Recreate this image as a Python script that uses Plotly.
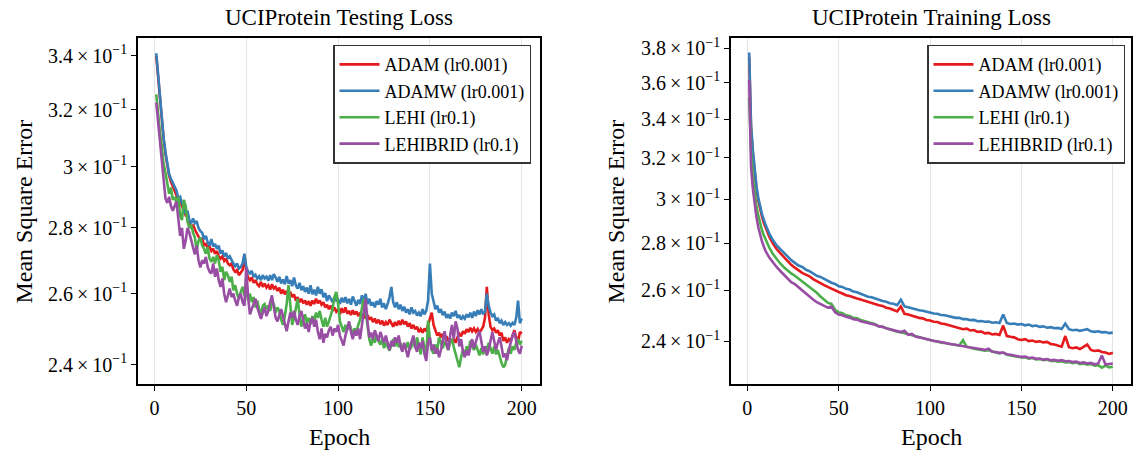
import plotly.graph_objects as go

FONT = "Liberation Serif"

# ---------------- data ----------------
series_names = ["ADAM (lr0.001)", "ADAMW (lr0.001)", "LEHI (lr0.1)", "LEHIBRID (lr0.1)"]
series_colors = ["#e41a1c", "#377eb8", "#4daf4a", "#984ea3"]

test_epochs = list(range(1, 201))

test_adam = [
    .3400, .3320, .3235, .3160, .3095, .3045, .3005, .2970, .2950, .2935,
    .2920, .2905, .2890, .2885, .2870, .2858, .2840, .2842, .2815, .2800,
    .2810, .2795, .2785, .2775, .2762, .2768, .2745, .2752, .2735, .2742,
    .2728, .2735, .2720, .2728, .2712, .2705, .2712, .2698, .2705, .2690,
    .2685, .2690, .2672, .2665, .2670, .2655, .2662, .2670, .2718, .2665,
    .2648, .2640, .2648, .2632, .2640, .2628, .2622, .2635, .2620, .2630,
    .2618, .2625, .2612, .2628, .2615, .2620, .2608, .2618, .2600, .2612,
    .2598, .2608, .2595, .2605, .2590, .2598, .2580, .2590, .2575, .2585,
    .2572, .2580, .2568, .2578, .2565, .2580, .2570, .2585, .2572, .2580,
    .2568, .2575, .2560, .2568, .2555, .2565, .2550, .2560, .2548, .2555,
    .2540, .2558, .2545, .2560, .2542, .2550, .2538, .2552, .2540, .2548,
    .2535, .2545, .2530, .2542, .2528, .2538, .2525, .2532, .2518, .2528,
    .2515, .2525, .2512, .2522, .2508, .2518, .2510, .2525, .2515, .2505,
    .2518, .2508, .2522, .2510, .2525, .2512, .2520, .2505, .2515, .2500,
    .2510, .2498, .2505, .2490, .2498, .2488, .2500, .2492, .2510, .2530,
    .2545, .2510, .2495, .2480, .2488, .2475, .2485, .2470, .2478, .2465,
    .2472, .2462, .2470, .2460, .2475, .2485, .2478, .2492, .2485, .2498,
    .2490, .2502, .2492, .2500, .2490, .2498, .2488, .2495, .2505, .2530,
    .2620, .2540, .2505, .2495, .2500, .2488, .2495, .2480, .2488, .2465,
    .2475, .2460, .2470, .2465, .2480, .2495, .2475, .2462, .2490, .2485,
]

test_adamw = [
    .3410, .3330, .3250, .3165, .3100, .3050, .3010, .2975, .2960, .2945,
    .2930, .2920, .2895, .2900, .2880, .2870, .2845, .2855, .2825, .2815,
    .2830, .2815, .2822, .2800, .2790, .2785, .2765, .2775, .2755, .2745,
    .2765, .2742, .2750, .2735, .2745, .2720, .2730, .2712, .2722, .2705,
    .2712, .2698, .2690, .2682, .2690, .2675, .2680, .2690, .2720, .2680,
    .2665, .2660, .2668, .2650, .2656, .2645, .2652, .2640, .2655, .2645,
    .2650, .2638, .2655, .2640, .2658, .2648, .2635, .2650, .2630, .2642,
    .2628, .2652, .2630, .2640, .2622, .2648, .2625, .2615, .2632, .2610,
    .2622, .2605, .2618, .2600, .2625, .2598, .2612, .2595, .2620, .2600,
    .2613, .2590, .2602, .2578, .2595, .2585, .2575, .2590, .2580, .2583,
    .2570, .2588, .2575, .2590, .2572, .2585, .2568, .2592, .2575, .2565,
    .2582, .2570, .2595, .2575, .2600, .2570, .2585, .2565, .2575, .2560,
    .2578, .2568, .2585, .2560, .2572, .2555, .2570, .2590, .2620, .2575,
    .2560, .2575, .2555, .2568, .2550, .2562, .2545, .2555, .2540, .2560,
    .2545, .2550, .2537, .2545, .2535, .2555, .2540, .2550, .2580, .2690,
    .2600, .2580, .2555, .2565, .2545, .2555, .2538, .2548, .2530, .2540,
    .2528, .2545, .2535, .2550, .2530, .2538, .2525, .2535, .2528, .2540,
    .2532, .2545, .2530, .2548, .2535, .2552, .2540, .2555, .2540, .2548,
    .2600, .2565, .2545, .2535, .2540, .2522, .2530, .2515, .2522, .2510,
    .2518, .2510, .2515, .2508, .2516, .2510, .2530, .2580, .2515, .2528,
]

test_lehi = [
    .3255, .3180, .3120, .3070, .3010, .2980, .2950, .2910, .2930, .2890,
    .2900, .2880, .2900, .2840, .2825, .2890, .2870, .2820, .2800, .2810,
    .2785, .2770, .2730, .2760, .2770, .2745, .2735, .2720, .2740, .2705,
    .2695, .2710, .2690, .2715, .2700, .2665, .2680, .2640, .2665, .2655,
    .2635, .2650, .2610, .2625, .2600, .2585, .2605, .2620, .2595, .2610,
    .2580, .2600, .2575, .2590, .2560, .2580, .2555, .2540, .2565, .2570,
    .2555, .2565, .2550, .2575, .2570, .2545, .2560, .2550, .2525, .2510,
    .2535, .2570, .2625, .2560, .2510, .2530, .2560, .2585, .2540, .2505,
    .2525, .2540, .2515, .2530, .2512, .2535, .2520, .2545, .2530, .2550,
    .2525, .2505, .2530, .2505, .2520, .2540, .2555, .2590, .2605, .2570,
    .2520, .2505, .2490, .2510, .2495, .2515, .2500, .2485, .2500, .2490,
    .2510, .2525, .2560, .2585, .2550, .2500, .2470, .2452, .2475, .2460,
    .2480, .2465, .2455, .2470, .2445, .2460, .2450, .2438, .2455, .2470,
    .2450, .2465, .2448, .2460, .2440, .2455, .2445, .2462, .2440, .2450,
    .2465, .2445, .2475, .2455, .2428, .2475, .2445, .2420, .2522, .2470,
    .2440, .2430, .2455, .2440, .2475, .2460, .2445, .2465, .2452, .2440,
    .2460, .2470, .2448, .2430, .2410, .2393, .2420, .2440, .2425, .2450,
    .2435, .2466, .2450, .2440, .2455, .2438, .2425, .2445, .2428, .2450,
    .2440, .2460, .2445, .2430, .2450, .2428, .2440, .2420, .2405, .2393,
    .2400, .2425, .2445, .2430, .2450, .2440, .2460, .2470, .2455, .2465,
]

test_lehibrid = [
    .3225, .3150, .3080, .3010, .2950, .2895, .2880, .2900, .2870, .2855,
    .2870, .2885, .2830, .2775, .2800, .2735, .2760, .2800, .2785, .2760,
    .2740, .2718, .2745, .2700, .2678, .2700, .2690, .2710, .2680, .2665,
    .2660, .2690, .2650, .2675, .2640, .2620, .2645, .2600, .2575, .2600,
    .2615, .2590, .2600, .2580, .2565, .2590, .2600, .2575, .2565, .2678,
    .2590, .2540, .2555, .2575, .2585, .2560, .2540, .2527, .2545, .2560,
    .2535, .2550, .2575, .2595, .2560, .2530, .2520, .2540, .2555, .2535,
    .2510, .2492, .2520, .2545, .2530, .2550, .2525, .2510, .2535, .2550,
    .2525, .2500, .2515, .2490, .2520, .2530, .2505, .2525, .2490, .2470,
    .2500, .2460, .2485, .2475, .2495, .2505, .2480, .2500, .2490, .2510,
    .2480, .2465, .2452, .2480, .2505, .2520, .2490, .2470, .2495, .2480,
    .2500, .2470, .2510, .2545, .2585, .2520, .2475, .2488, .2470, .2495,
    .2480, .2465, .2490, .2475, .2460, .2480, .2455, .2440, .2465, .2450,
    .2475, .2460, .2480, .2450, .2435, .2460, .2440, .2420, .2445, .2460,
    .2480, .2450, .2435, .2460, .2445, .2465, .2430, .2410, .2460, .2475,
    .2440, .2455, .2430, .2445, .2420, .2440, .2465, .2492, .2460, .2440,
    .2480, .2510, .2470, .2520, .2500, .2450, .2470, .2435, .2420, .2440,
    .2425, .2450, .2470, .2445, .2465, .2480, .2492, .2460, .2435, .2450,
    .2425, .2440, .2470, .2490, .2465, .2440, .2460, .2475, .2450, .2420,
    .2430, .2412, .2440, .2460, .2480, .2490, .2460, .2440, .2430, .2452,
]

train_epochs = list(range(1, 11)) + list(range(12, 201, 2))

train_adam = [
    .3750, .3355, .3225, .3130, .3048, .2993, .2952, .2918, .2890, .2866,
    .2828, .2798, .2774, .2756, .2738, .2721, .2706, .2694, .2681, .2672,
    .2665, .2658, .2646, .2637, .2630, .2621, .2614, .2606, .2598, .2593,
    .2587, .2580, .2577, .2571, .2567, .2563, .2558, .2555, .2549, .2546,
    .2540, .2537, .2530, .2527, .2520, .2515, .2535, .2506, .2503, .2498,
    .2496, .2490, .2488, .2482, .2480, .2475, .2474, .2468, .2466, .2462,
    .2460, .2454, .2452, .2446, .2448, .2441, .2443, .2436, .2437, .2430,
    .2432, .2426, .2428, .2424, .2460, .2420, .2417, .2415, .2408, .2405,
    .2408, .2401, .2403, .2398, .2400, .2396, .2398, .2390, .2388, .2384,
    .2380, .2420, .2378, .2374, .2377, .2371, .2380, .2388, .2368, .2364,
    .2366, .2360, .2358, .2353, .2357,
]

train_adamw = [
    .3776, .3373, .3239, .3143, .3060, .3005, .2965, .2930, .2905, .2880,
    .2842, .2812, .2790, .2775, .2760, .2742, .2726, .2716, .2703, .2697,
    .2686, .2679, .2668, .2660, .2655, .2646, .2640, .2631, .2626, .2617,
    .2614, .2606, .2603, .2595, .2592, .2585, .2581, .2574, .2572, .2566,
    .2563, .2557, .2554, .2548, .2546, .2540, .2562, .2535, .2532, .2527,
    .2525, .2520, .2518, .2514, .2512, .2507, .2506, .2501, .2500, .2496,
    .2495, .2490, .2490, .2485, .2485, .2481, .2482, .2477, .2478, .2475,
    .2476, .2471, .2473, .2470, .2503, .2470, .2466, .2468, .2464, .2466,
    .2461, .2464, .2458, .2460, .2455, .2457, .2452, .2454, .2450, .2451,
    .2447, .2468, .2446, .2442, .2444, .2440, .2443, .2446, .2438, .2436,
    .2438, .2434, .2435, .2431, .2433,
]

train_lehi = [
    .3516, .3240, .3105, .3022, .2965, .2922, .2887, .2858, .2834, .2813,
    .2780, .2752, .2730, .2712, .2696, .2682, .2670, .2660, .2648, .2638,
    .2626, .2612, .2600, .2590, .2575, .2562, .2550, .2545, .2522, .2512,
    .2508, .2500, .2497, .2490, .2488, .2482, .2478, .2474, .2468, .2465,
    .2457, .2455, .2450, .2445, .2441, .2436, .2434, .2430, .2428, .2422,
    .2420, .2416, .2413, .2408, .2404, .2401, .2399, .2395, .2394, .2391,
    .2390, .2386, .2385, .2404, .2379, .2377, .2372, .2370, .2367, .2365,
    .2367, .2361, .2358, .2355, .2358, .2350, .2348, .2346, .2342, .2340,
    .2341, .2336, .2338, .2333, .2334, .2330, .2332, .2327, .2328, .2325,
    .2326, .2322, .2323, .2319, .2322, .2316, .2318, .2314, .2316, .2310,
    .2312, .2303, .2310, .2304, .2306,
]

train_lehibrid = [
    .3617, .3159, .3050, .2975, .2914, .2870, .2835, .2808, .2785, .2765,
    .2737, .2715, .2697, .2680, .2665, .2652, .2633, .2625, .2612, .2600,
    .2590, .2575, .2563, .2552, .2545, .2538, .2530, .2535, .2512, .2503,
    .2500, .2494, .2491, .2485, .2483, .2477, .2474, .2470, .2466, .2463,
    .2457, .2455, .2450, .2446, .2442, .2437, .2435, .2440, .2425, .2428,
    .2418, .2415, .2411, .2408, .2405, .2402, .2400, .2396, .2395, .2391,
    .2390, .2387, .2384, .2381, .2380, .2377, .2375, .2372, .2370, .2368,
    .2372, .2361, .2360, .2357, .2358, .2352, .2350, .2348, .2344, .2342,
    .2343, .2338, .2340, .2335, .2336, .2332, .2334, .2330, .2331, .2328,
    .2330, .2326, .2327, .2323, .2325, .2320, .2322, .2318, .2320, .2315,
    .2318, .2347, .2314, .2316, .2318,
]

x_ticks = [0, 50, 100, 150, 200]
test_yticks = [0.24, 0.26, 0.28, 0.30, 0.32, 0.34]
test_ylabels = ["2.4", "2.6", "2.8", "3", "3.2", "3.4"]
train_yticks = [0.24, 0.26, 0.28, 0.30, 0.32, 0.34, 0.36, 0.38]
train_ylabels = ["2.4", "2.6", "2.8", "3", "3.2", "3.4", "3.6", "3.8"]

titles = ["UCIProtein Testing Loss", "UCIProtein Training Loss"]

# ---------------- figure ----------------
W, H = 1135, 452
fig = go.Figure()

test_series = [test_adam, test_adamw, test_lehi, test_lehibrid]
train_series = [train_adam, train_adamw, train_lehi, train_lehibrid]

for name, col, ys in zip(series_names, series_colors, test_series):
    fig.add_trace(go.Scatter(x=test_epochs, y=ys, mode="lines", name=name,
                             line=dict(color=col, width=2.6), xaxis="x", yaxis="y",
                             legend="legend"))
for name, col, ys in zip(series_names, series_colors, train_series):
    fig.add_trace(go.Scatter(x=train_epochs, y=ys, mode="lines", name=name,
                             line=dict(color=col, width=2.6), xaxis="x2", yaxis="y2",
                             legend="legend2"))

def px_x(p):
    return p / W

def px_y(p):
    return 1 - p / H

left_dom = [px_x(138), px_x(540)]
right_dom = [px_x(731), px_x(1131)]
y_dom = [px_y(384), px_y(35)]

def ylabels(lbls):
    return [f"{t}\u2009×\u200910<sup>−1</sup>" for t in lbls]

TICK_SIZE = 20
common_x = dict(range=[-8.95, 209.95], tickvals=x_ticks, ticks="outside", ticklen=5,
                tickwidth=1.2, tickcolor="black", showline=True, linecolor="black",
                linewidth=1.5, mirror=True, showgrid=True, gridcolor="#e5e5e5",
                gridwidth=1, zeroline=False,
                tickfont=dict(family=FONT, size=TICK_SIZE, color="black"))
common_y = dict(type="log", ticks="outside", ticklen=5, tickwidth=1.2, tickcolor="black",
                showline=True, linecolor="black", linewidth=1.5, mirror=True,
                showgrid=False, zeroline=False,
                tickfont=dict(family=FONT, size=TICK_SIZE, color="black"))

legend_common = dict(xanchor="right", yanchor="top", bgcolor="white",
                     bordercolor="#333333", borderwidth=1.5,
                     font=dict(family=FONT, size=18, color="black"), itemwidth=40,
                     tracegroupgap=0)

fig.update_layout(
    width=W, height=H,
    margin=dict(l=0, r=0, t=0, b=0),
    paper_bgcolor="white", plot_bgcolor="white",
    font=dict(family=FONT, color="black"),
    xaxis=dict(domain=left_dom, anchor="y", **common_x),
    yaxis=dict(domain=y_dom, anchor="x", range=[-0.62949, -0.45967],
               tickvals=test_yticks, ticktext=ylabels(test_ylabels), **common_y),
    xaxis2=dict(domain=right_dom, anchor="y2", **common_x),
    yaxis2=dict(domain=y_dom, anchor="x2", range=[-0.64917, -0.41296],
                tickvals=train_yticks, ticktext=ylabels(train_ylabels), **common_y),
    legend=dict(x=px_x(531), y=px_y(42), **legend_common),
    legend2=dict(x=px_x(1125), y=px_y(42), **legend_common),
    showlegend=True,
)

annotations = []
for t, dom in zip(titles, [left_dom, right_dom]):
    annotations.append(dict(text=t, x=(dom[0] + dom[1]) / 2, y=px_y(15), xref="paper",
                            yref="paper", showarrow=False, xanchor="center",
                            yanchor="middle", font=dict(family=FONT, size=23, color="black")))
    annotations.append(dict(text="Epoch", x=(dom[0] + dom[1]) / 2, y=px_y(437), xref="paper",
                            yref="paper", showarrow=False, xanchor="center",
                            yanchor="middle", font=dict(family=FONT, size=24, color="black")))
for xc in [24, 616]:
    annotations.append(dict(text="Mean Square Error", x=px_x(xc), y=px_y(210), xref="paper",
                            yref="paper", showarrow=False, textangle=-90, xanchor="center",
                            yanchor="middle", font=dict(family=FONT, size=24, color="black")))
fig.update_layout(annotations=annotations)

fig.write_html("out.html")
